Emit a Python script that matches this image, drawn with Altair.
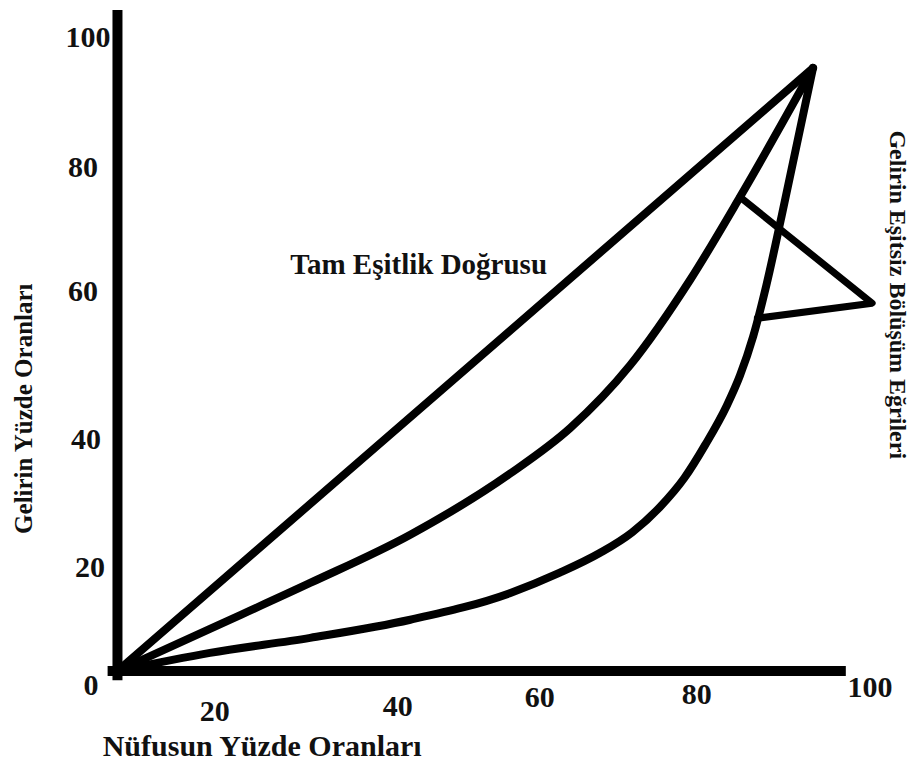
import altair as alt
import pandas as pd

# ---- data (percent units) ----
equal_x = [0, 100]
equal_y = [0, 100]

mid_x = [0, 13.3, 27.7, 42.1, 56.4, 65.1, 73.7, 82.3, 89.5, 100]
mid_y = [0, 7.0, 14.6, 22.6, 32.7, 40.3, 50.7, 64.8, 78.6, 100]

low_x = [0, 13.3, 27.7, 42.1, 56.4, 63.6, 69.4, 74.0, 78.0, 81.5, 84.5, 87.6, 89.5, 91.4, 93.3, 95.5, 100]
low_y = [0, 3.0, 5.5, 8.5, 12.9, 16.3, 19.6, 23.0, 27.2, 32.0, 37.5, 44.0, 49.0, 55.5, 64.0, 75.5, 100]

pointer_x = [89.5, 108.5, 92.0]
pointer_y = [78.6, 61.0, 58.5]

axis_x = [0, -0.7]
axis_x2 = [0, 104.0]
axis_y = [-0.7, 0]
axis_y2 = [108.8, 0]

ytick_labels = ["100", "80", "60", "40", "20", "0"]
ytick_x = [-4.25, -4.96, -4.96, -4.53, -3.95, -3.81]
ytick_y = [105.0, 83.4, 62.8, 38.3, 17.1, -2.5]

xtick_labels = ["20", "40", "60", "80", "100"]
xtick_x = [14.0, 40.3, 60.7, 83.3, 108.2]
xtick_y = [-6.8, -6.0, -4.5, -4.0, -2.8]

line_label = "Tam Eşitlik Doğrusu"
line_label_pos = (43.3, 67.3)
x_title = "Nüfusun Yüzde Oranları"
x_title_pos = (20.8, -12.6)
y_title = "Gelirin Yüzde Oranları"
y_title_pos = (-13.4, 43.5)
curve_title = "Gelirin Eşitsiz Bölüşüm Eğrileri"
curve_title_pos = (112.1, 62.4)

# ---- scales ----
XD = [-15.74, 114.09]
YD = [-15.09, 109.95]
xs = alt.Scale(domain=XD, nice=False, zero=False)
ys = alt.Scale(domain=YD, nice=False, zero=False)
FONT = "Liberation Serif"
INK = "#000000"

curves = pd.DataFrame(
    [{"s": "equal", "i": i, "x": x, "y": y} for i, (x, y) in enumerate(zip(equal_x, equal_y))]
    + [{"s": "mid", "i": i, "x": x, "y": y} for i, (x, y) in enumerate(zip(mid_x, mid_y))]
    + [{"s": "low", "i": i, "x": x, "y": y} for i, (x, y) in enumerate(zip(low_x, low_y))]
)
pointer = pd.DataFrame({"i": list(range(len(pointer_x))), "x": pointer_x, "y": pointer_y})
axes = pd.DataFrame({"x": axis_x, "x2": axis_x2, "y": axis_y, "y2": axis_y2})
yt = pd.DataFrame({"t": ytick_labels, "x": ytick_x, "y": ytick_y})
xt = pd.DataFrame({"t": xtick_labels, "x": xtick_x, "y": xtick_y})

axis_layer = alt.Chart(axes).mark_rule(color=INK, strokeWidth=10, strokeCap="square").encode(
    x=alt.X("x:Q", scale=xs, axis=None),
    x2="x2:Q",
    y=alt.Y("y:Q", scale=ys, axis=None),
    y2="y2:Q",
)

curve_layer = alt.Chart(curves).mark_line(
    color=INK, strokeWidth=8, strokeCap="round", strokeJoin="round", interpolate="monotone"
).encode(
    x=alt.X("x:Q", scale=xs, axis=None),
    y=alt.Y("y:Q", scale=ys, axis=None),
    detail="s:N",
    order="i:Q",
)

pointer_layer = alt.Chart(pointer).mark_line(
    color=INK, strokeWidth=7, strokeCap="round", strokeJoin="round"
).encode(
    x=alt.X("x:Q", scale=xs, axis=None),
    y=alt.Y("y:Q", scale=ys, axis=None),
    order="i:Q",
)

ytick_layer = alt.Chart(yt).mark_text(
    font=FONT, fontWeight="bold", fontSize=30, color="#111111", align="center", baseline="middle"
).encode(
    x=alt.X("x:Q", scale=xs, axis=None),
    y=alt.Y("y:Q", scale=ys, axis=None),
    text="t:N",
)

xtick_layer = alt.Chart(xt).mark_text(
    font=FONT, fontWeight="bold", fontSize=30, color="#111111", align="center", baseline="middle"
).encode(
    x=alt.X("x:Q", scale=xs, axis=None),
    y=alt.Y("y:Q", scale=ys, axis=None),
    text="t:N",
)


def label(text, pos, size, angle=0):
    df = pd.DataFrame({"t": [text], "x": [pos[0]], "y": [pos[1]]})
    kw = dict(font=FONT, fontWeight="bold", fontSize=size, color="#111111",
              align="center", baseline="middle")
    if angle:
        kw["angle"] = angle
    return alt.Chart(df).mark_text(**kw).encode(
        x=alt.X("x:Q", scale=xs, axis=None),
        y=alt.Y("y:Q", scale=ys, axis=None),
        text="t:N",
    )


chart = alt.layer(
    curve_layer,
    pointer_layer,
    axis_layer,
    ytick_layer,
    xtick_layer,
    label(line_label, line_label_pos, 29),
    label(x_title, x_title_pos, 30),
    label(y_title, y_title_pos, 25, 270),
    label(curve_title, curve_title_pos, 24, 90),
).properties(
    width=903,
    height=754,
    padding=0,
    autosize=alt.AutoSizeParams(type="none"),
    background="white",
).configure_view(stroke=None)

chart.save("out.html", embed_options={"renderer": "svg", "actions": False})
